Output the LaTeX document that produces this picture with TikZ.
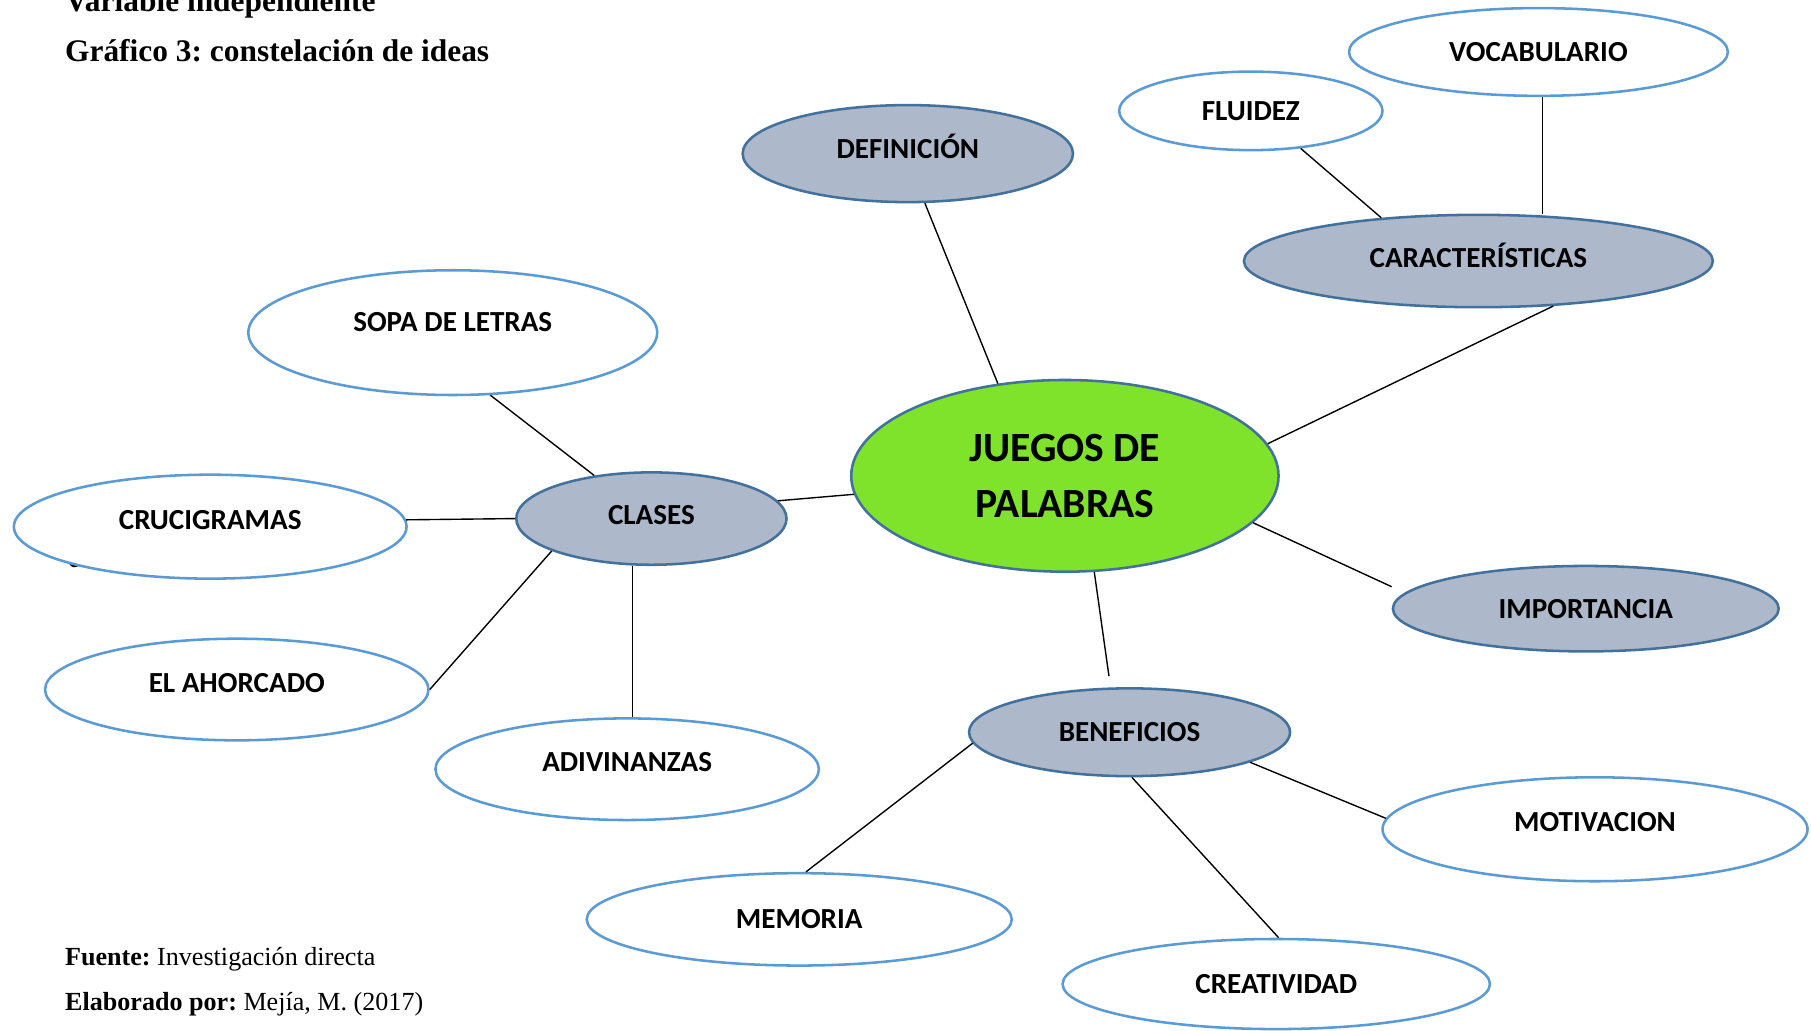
\documentclass[tikz,border=0pt]{standalone}
\usepackage{fontspec}
\setmainfont{Liberation Serif}
\newfontfamily\calibri{Carlito}
\usetikzlibrary{shapes}
\frenchspacing

\definecolor{topicfill}{HTML}{ADB9CA}
\definecolor{topicline}{HTML}{41719C}
\definecolor{idealine}{HTML}{5B9BD5}
\definecolor{centerfill}{HTML}{7FE22B}

\begin{document}
\begin{tikzpicture}[x=0.5pt,y=-0.5pt]

		\tikzstyle{topic}=[ellipse,draw=topicline,line width=1.1pt,fill=topicfill,inner sep=0pt,font=\calibri\bfseries\fontsize{12.6}{15}\selectfont]
		\tikzstyle{idea}=[ellipse,draw=idealine,line width=1.1pt,fill=white,inner sep=0pt,font=\calibri\bfseries\fontsize{12.6}{15}\selectfont]
		\tikzstyle{central}=[ellipse,draw=topicline,line width=1.1pt,fill=centerfill,inner sep=0pt,align=center,font=\calibri\bfseries\fontsize{18}{24}\selectfont]
		\tikzstyle{link}=[line width=0.6pt]
		\tikzstyle{caption}=[anchor=base west,inner sep=0pt,font=\bfseries\fontsize{13.6}{16}\selectfont]
		\tikzstyle{source}=[anchor=base west,inner sep=0pt,font=\fontsize{11.3}{13}\selectfont]

		\useasboundingbox (0,0) rectangle (1568,892);

		\node[caption] (var) at (56,10) {Variable independiente};
		\node[caption] (gra) at (56,53.4) {Gráfico 3: constelación de ideas};

		\node[anchor=base,inner sep=0pt,font=\calibri\bfseries\fontsize{12.6}{15}\selectfont] (stray) at (64,491) {c};

		\node[central,minimum width=185pt,minimum height=83pt] (jue) at (922,412) {JUEGOS DE\\PALABRAS};

		\node[topic,minimum width=143pt,minimum height=42pt,text depth=6pt] (def) at (786,133) {DEFINICIÓN};
		\node[topic,minimum width=203pt,minimum height=40pt,text depth=5pt] (car) at (1280,226) {CARACTERÍSTICAS};
		\node[topic,minimum width=117pt,minimum height=40pt,text depth=3pt] (cla) at (564,449) {CLASES};
		\node[topic,minimum width=167pt,minimum height=37pt] (imp) at (1373,527) {IMPORTANCIA};
		\node[topic,minimum width=139pt,minimum height=38pt] (ben) at (978,634) {BENEFICIOS};

		\node[idea,minimum width=114pt,minimum height=34pt] (flu) at (1083,96) {FLUIDEZ};
		\node[idea,minimum width=164pt,minimum height=38pt] (voc) at (1332,45) {VOCABULARIO};
		\node[idea,minimum width=177pt,minimum height=54pt,text depth=9pt] (sop) at (392,288) {SOPA DE LETRAS};
		\node[idea,minimum width=170pt,minimum height=45pt,text depth=6pt] (cru) at (182,456) {CRUCIGRAMAS};
		\node[idea,minimum width=166pt,minimum height=44pt,text depth=6pt] (aho) at (205,597) {EL AHORCADO};
		\node[idea,minimum width=166pt,minimum height=44pt,text depth=6pt] (adi) at (543,666) {ADIVINANZAS};
		\node[idea,minimum width=184pt,minimum height=45pt,text depth=6pt] (mot) at (1381,718) {MOTIVACION};
		\node[idea,minimum width=184pt,minimum height=40pt] (mem) at (692,796) {MEMORIA};
		\node[idea,minimum width=185pt,minimum height=39pt] (cre) at (1105,852) {CREATIVIDAD};

		% ramas
		\draw[link] (def.-71.6) -- (jue.126.8);
		\draw[link] (car.-31.2) -- (jue.9.2);
		\draw[link] (cla.8.7) -- (jue.185.9);
		\draw[link] (jue.-14.8) -- ([yshift=9.5pt]imp.west);
		\draw[link,shorten >=5pt] (jue.-73.7) -- (ben.113.1);

		\draw[link] (flu.-37.7) -- (car.156.7);
		\draw[link] (voc.-85.5) -- (voc.-85.5 |- car.north);

		\draw[link] (sop.-59.3) -- (cla.143.8);
		\draw[link] (cru.2) -- (cla.180);
		\draw[link] (cla.-162.1) -- (aho.east);
		\draw[link] (cla.-112) -- (cla.-112 |- adi.north);

		\draw[link] (ben.-176.7) -- (mem.82.7);
		\draw[link] (ben.-87) -- (cre.87);
		\draw[link] (ben.-14) -- (mot.177.5);

		\node[source] (fue) at (56,836) {\textbf{Fuente:} Investigación directa};
		\node[source] (ela) at (56,875) {\textbf{Elaborado por:} Mejía, M. (2017)};

\end{tikzpicture}
\end{document}
